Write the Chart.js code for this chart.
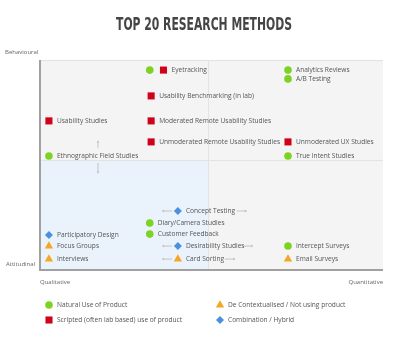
<!DOCTYPE html>
<html>
<head>
<meta charset="utf-8">
<script src="https://cdn.jsdelivr.net/npm/chart.js@4.4.1/dist/chart.umd.min.js"></script>
<style>
  html, body { margin: 0; padding: 0; background: #fff; }
  #wrap { width: 400px; height: 352px; position: relative; }
</style>
</head>
<body>
<div id="wrap"><canvas id="chart"></canvas></div>
<script>
// ---- data (x: qualitative 0 -> quantitative 100, y: attitudinal 0 -> behavioural 100)
const methods = [
  '', 'Eyetracking', 'Analytics Reviews', 'A/B Testing', 'Usability Benchmarking (in lab)',
  'Usability Studies', 'Moderated Remote Usability Studies', 'Unmoderated Remote Usability Studies',
  'Unmoderated UX Studies', 'Ethnographic Field Studies', 'True Intent Studies', 'Concept Testing',
  'Diary/Camera Studies', 'Customer Feedback', 'Participatory Design', 'Focus Groups',
  'Desirability Studies', 'Intercept Surveys', 'Interviews', 'Card Sorting', 'Email Surveys'
];
const xValues = [32, 36, 72.3, 72.3, 32.4, 2.6, 32.4, 32.4, 72.3, 2.6, 72.3, 40.2, 32, 32, 2.6, 2.6, 40.2, 72.3, 2.6, 40.2, 72.3];
const yValues = [95.2, 95.2, 95.2, 91, 82.9, 71, 71, 61, 61, 54.3, 54.3, 28.1, 22.4, 17.1, 16.7, 11.4, 11.4, 11.4, 5.2, 5.2, 5.2];
const kinds = ['natural', 'scripted', 'natural', 'natural', 'scripted', 'scripted', 'scripted', 'scripted',
  'scripted', 'natural', 'natural', 'hybrid', 'natural', 'natural', 'hybrid', 'decontext',
  'hybrid', 'natural', 'decontext', 'decontext', 'decontext'];

const kindKeys = ['natural', 'scripted', 'decontext', 'hybrid'];
const kindLabels = ['Natural Use of Product', 'Scripted (often lab based) use of product',
  'De Contextualised / Not using product', 'Combination / Hybrid'];
const kindColors = ['#7ed321', '#d0021b', '#f5a623', '#4a90e2'];
const kindStyles = ['circle', 'rect', 'triangle', 'rectRot'];
const kindRadius = [3.8, 5, 4.8, 4];

// grey "could move" arrows: [x1, y1, x2, y2] in data units
const arrows = [
  [16.9, 58, 16.9, 61.6], [16.9, 51, 16.9, 46],
  [38.5, 28.1, 35.6, 28.1], [57.4, 28.1, 60.3, 28.1],
  [38.5, 11.4, 35.6, 11.4], [59.2, 11.4, 62.1, 11.4],
  [38.5, 5.2, 35.6, 5.2], [53.9, 5.2, 56.9, 5.2]
];
const splitX = 49;
const splitY = 52.4;

const LABEL_FONT = '6.6px "Open Sans", sans-serif';

const datasets = kindKeys.map((k, i) => ({
  label: kindLabels[i],
  data: methods.map((m, j) => ({ x: xValues[j], y: yValues[j], name: m, kind: kinds[j] }))
    .filter(p => p.kind === k),
  pointStyle: kindStyles[i],
  pointRadius: kindRadius[i],
  pointHoverRadius: kindRadius[i],
  backgroundColor: kindColors[i],
  borderColor: kindColors[i],
  borderWidth: 0
}));

function arrowLine(ctx, x1, y1, x2, y2) {
  const a = Math.atan2(y2 - y1, x2 - x1);
  ctx.beginPath();
  ctx.moveTo(x1, y1);
  ctx.lineTo(x2, y2);
  ctx.stroke();
  ctx.beginPath();
  ctx.moveTo(x2, y2);
  ctx.lineTo(x2 - 2.5 * Math.cos(a - 0.6), y2 - 2.5 * Math.sin(a - 0.6));
  ctx.lineTo(x2 - 2.5 * Math.cos(a + 0.6), y2 - 2.5 * Math.sin(a + 0.6));
  ctx.closePath();
  ctx.fill();
}

const quadrantPlugin = {
  id: 'quadrant',
  beforeDatasetsDraw(chart) {
    const { ctx, chartArea: a, scales: { x, y } } = chart;
    ctx.save();
    // title - condensed poster style, squeezed to the reference width
    ctx.fillStyle = '#454545';
    ctx.font = 'bold 18px "DejaVu Sans Condensed", "DejaVu Sans", sans-serif';
    ctx.textAlign = 'center';
    ctx.textBaseline = 'middle';
    const title = 'TOP 20 RESEARCH METHODS';
    const sx = 176 / ctx.measureText(title).width;
    ctx.save();
    ctx.translate(204, 25);
    ctx.scale(sx, 1);
    ctx.fillText(title, 0, 0);
    ctx.restore();

    // background + blue attitudinal/qualitative block
    ctx.fillStyle = '#f4f4f4';
    ctx.fillRect(a.left, a.top, a.width, a.height);
    ctx.fillStyle = '#eaf2fc';
    const bx = x.getPixelForValue(splitX), by = y.getPixelForValue(splitY);
    ctx.fillRect(a.left, by, bx - a.left, a.bottom - by);

    ctx.strokeStyle = '#e2e2e2';
    ctx.lineWidth = 1;
    ctx.beginPath();
    ctx.moveTo(bx + 0.5, a.top); ctx.lineTo(bx + 0.5, a.bottom);
    ctx.moveTo(a.left, by + 0.5); ctx.lineTo(a.right, by + 0.5);
    ctx.moveTo(a.left, a.top + 0.5); ctx.lineTo(a.right, a.top + 0.5);
    ctx.stroke();

    // axes
    ctx.strokeStyle = '#a0a0a0';
    ctx.lineWidth = 2;
    ctx.beginPath();
    ctx.moveTo(a.left, a.top); ctx.lineTo(a.left, a.bottom);
    ctx.lineTo(a.right, a.bottom);
    ctx.stroke();

    // axis end labels
    ctx.fillStyle = '#666';
    ctx.font = '6px "Open Sans", sans-serif';
    ctx.textBaseline = 'middle';
    ctx.textAlign = 'left';
    ctx.fillText('Behavioural', 5, 52);
    ctx.fillText('Attitudinal', 6, 264);
    ctx.fillText('Qualitative', a.left, 282);
    ctx.textAlign = 'right';
    ctx.fillText('Quantitative', a.right, 282);

    // arrows
    ctx.strokeStyle = '#c4c4c4';
    ctx.fillStyle = '#c4c4c4';
    ctx.lineWidth = 1;
    arrows.forEach(([x1, y1, x2, y2]) => {
      arrowLine(ctx, x.getPixelForValue(x1), y.getPixelForValue(y1),
        x.getPixelForValue(x2), y.getPixelForValue(y2));
    });
    ctx.restore();
  },
  afterDatasetsDraw(chart) {
    const { ctx } = chart;
    ctx.save();
    ctx.font = LABEL_FONT;
    ctx.fillStyle = '#555';
    ctx.textAlign = 'left';
    ctx.textBaseline = 'middle';
    chart.data.datasets.forEach((ds, i) => {
      const meta = chart.getDatasetMeta(i);
      meta.data.forEach((el, j) => {
        const name = ds.data[j].name;
        if (name) ctx.fillText(name, el.x + 8, el.y + 0.5);
      });
    });

    // legend in two columns
    const cols = [49, 220], rows = [305, 320];
    const order = [[0, 0, 0], [1, 0, 1], [2, 1, 0], [3, 1, 1]];
    order.forEach(([k, c, r]) => {
      const px = cols[c], py = rows[r];
      ctx.fillStyle = kindColors[k];
      Chart.helpers.drawPoint(ctx, { pointStyle: kindStyles[k], radius: kindRadius[k], borderWidth: 0 }, px, py);
      ctx.fillStyle = '#555';
      ctx.fillText(kindLabels[k], px + 8, py + 0.5);
    });
    ctx.restore();
  }
};

new Chart(document.getElementById('chart'), {
  type: 'scatter',
  data: { datasets },
  options: {
    responsive: true,
    maintainAspectRatio: false,
    animation: false,
    layout: { padding: { left: 40, top: 60, right: 17, bottom: 82 } },
    plugins: { legend: { display: false }, tooltip: { enabled: false } },
    scales: {
      x: { display: false, min: 0, max: 100 },
      y: { display: false, min: 0, max: 100 }
    }
  },
  plugins: [quadrantPlugin]
});
</script>
</body>
</html>
